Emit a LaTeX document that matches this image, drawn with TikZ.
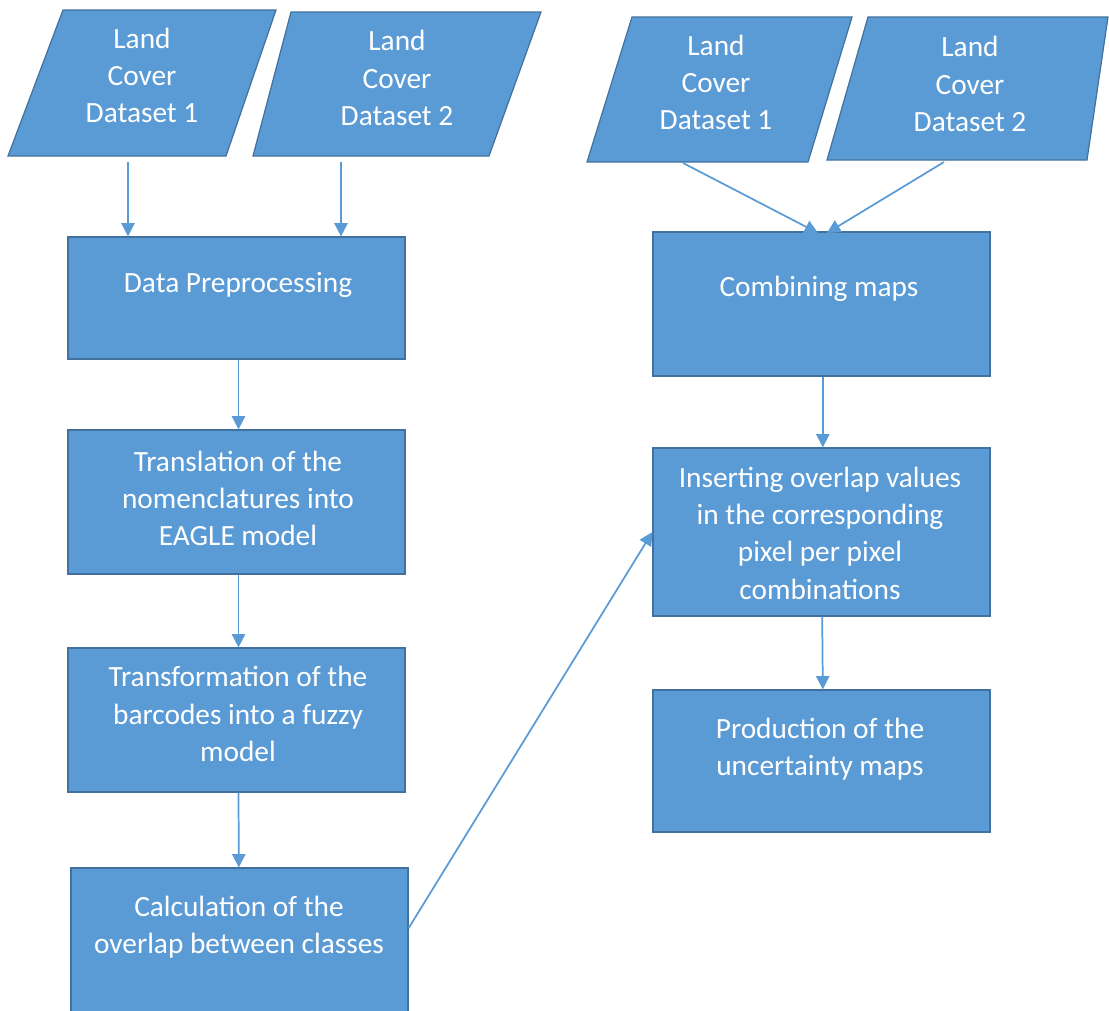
\documentclass[tikz,border=0pt]{standalone}
\usepackage{fontspec}
\setmainfont{Carlito}
\usetikzlibrary{arrows.meta}
\definecolor{fillblue}{HTML}{5B9BD5}
\definecolor{edgeblue}{HTML}{41719C}
\definecolor{arrowblue}{HTML}{5B9BD5}
\begin{document}
\begin{tikzpicture}[x=0.75pt,y=-0.75pt,
  box/.style={draw=edgeblue, fill=fillblue, line width=0.9pt, rectangle, inner sep=0, minimum width=252.75pt},
  lbl/.style={text=white, align=center, font=\fontsize{22}{28}\selectfont, inner sep=0},
  conn/.style={draw=arrowblue, line width=1.3pt, -{Triangle[length=10pt,width=10pt]}},
  para/.style={draw=edgeblue, fill=fillblue, line width=0.9pt, line join=miter}]
\useasboundingbox[fill=white] (0,0) rectangle (1109,1010);
\clip (0,0) rectangle (1109,1010);
% input parallelograms
\path[para] (63,10) -- (276,10) -- (226,156) -- (8,156) -- cycle;
\node[lbl] (p1) at (142,75.5) {Land\\Cover\\Dataset 1};
\path[para] (291,12) -- (541,12) -- (489,156) -- (253,156) -- cycle;
\node[lbl] (p2) at (397,78) {Land\\Cover\\Dataset 2};
\path[para] (632,17) -- (852,17) -- (808,162) -- (587,162) -- cycle;
\node[lbl] (p3) at (716,82.5) {Land\\Cover\\Dataset 1};
\path[para] (868,17) -- (1108,17) -- (1087,160) -- (827,160) -- cycle;
\node[lbl] (p4) at (970,84) {Land\\Cover\\Dataset 2};
% left column boxes
\node[box, minimum height=91.5pt] (dp) at (236.5,298) {};
\node[lbl] at (238,285) {Data Preprocessing};
\node[box, minimum height=108pt] (tr) at (236.5,502) {};
\node[lbl] at (238,498.5) {Translation of the\\nomenclatures into\\EAGLE model};
\node[box, minimum height=108pt] (tf) at (236.5,720) {};
\node[lbl] at (238,714) {Transformation of the\\barcodes into a fuzzy\\model};
\node[box, minimum height=110.25pt] (ca) at (239.5,941.5) {};
\node[lbl] at (239,927) {Calculation of the\\overlap between classes};
% right column boxes
\node[box, minimum height=108pt] (cm) at (821.5,304) {};
\node[lbl] at (819,289) {Combining maps};
\node[box, minimum height=126pt] (in) at (821.5,532) {};
\node[lbl] at (820,533) {Inserting overlap values\\in the corresponding\\pixel per pixel\\combinations};
\node[box, minimum height=106.5pt] (pr) at (821.5,761) {};
\node[lbl] at (820,749.5) {Production of the\\uncertainty maps};
% connector end points
\coordinate (p1out) at (128,162);
\coordinate (p2out) at (341,162);
\coordinate (p3out) at (683,163);
\coordinate (p4out) at (944,162);
\coordinate (cmin1) at (818,233);
\coordinate (cmin2) at (827,233);
% connectors
\draw[conn] (p1out) -- (p1out |- dp.north);
\draw[conn] (p2out) -- (p2out |- dp.north);
\draw[conn] ([xshift=1.5pt]dp.south) -- ([xshift=1.5pt]tr.north);
\draw[conn] ([xshift=1.5pt]tr.south) -- ([xshift=1.5pt]tf.north);
\draw[conn] ([xshift=1.5pt]tf.south) -- ([xshift=-0.5pt]ca.north);
\draw[conn] ([yshift=10pt]ca.east) -- (in.west);
\draw[conn] (p3out) -- (cmin1);
\draw[conn] (p4out) -- (cmin2);
\draw[conn] ([xshift=1pt]cm.south) -- ([xshift=1pt]in.north);
\draw[conn] ([xshift=0.5pt]in.south) -- ([xshift=1pt]pr.north);
\end{tikzpicture}
\end{document}
